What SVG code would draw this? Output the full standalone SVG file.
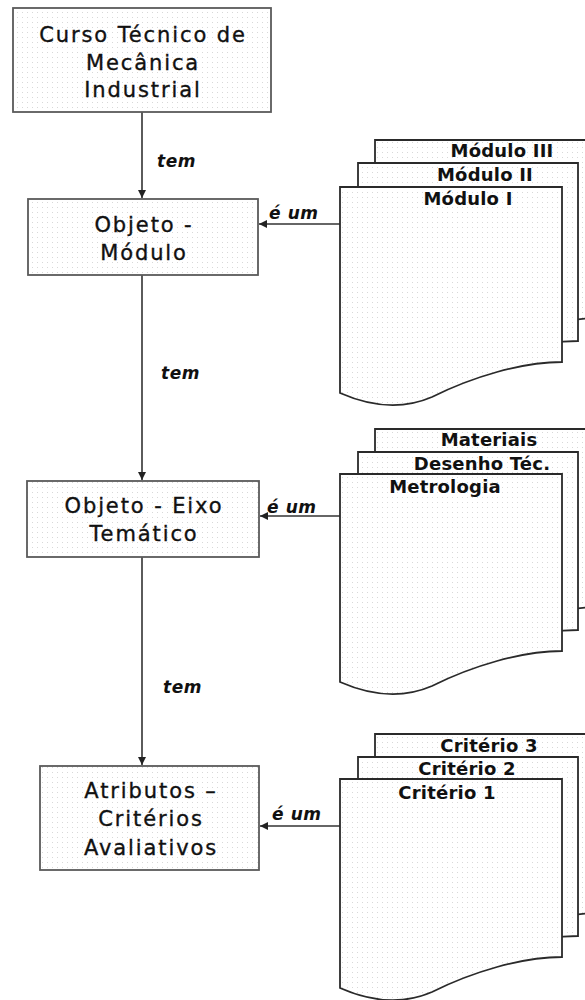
<svg xmlns="http://www.w3.org/2000/svg" width="585" height="1000" viewBox="0 0 585 1000">
  <style>
    .box { fill: url(#dots); stroke: #5a5a5a; stroke-width: 1.8; }
    .page { fill: url(#dots); stroke: #2a2a2a; stroke-width: 1.8; stroke-linejoin: miter; }
    .lbl { font-family: "DejaVu Sans", Verdana, sans-serif; font-size: 21px; letter-spacing: 1.9px; fill: #111; stroke: #111; stroke-width: 0.35; text-anchor: middle; }
    .ptxt { font-family: "DejaVu Sans", Verdana, sans-serif; font-size: 18px; font-weight: bold; letter-spacing: 0.2px; fill: #111; text-anchor: middle; }
    .rel { font-family: "DejaVu Sans", Verdana, sans-serif; font-size: 17px; font-weight: bold; font-style: italic; letter-spacing: 0.6px; fill: #111; }
    .wire { stroke: #333; stroke-width: 1.6; fill: none; marker-end: url(#head); }
  </style>
  <defs>
    <pattern id="dots" width="5" height="5" patternUnits="userSpaceOnUse">
      <rect width="5" height="5" fill="#ffffff"/>
      <rect x="2" y="2" width="1" height="1" fill="#d8d8d8"/>
    </pattern>
    <marker id="head" viewBox="0 0 10 10" refX="10" refY="5" markerWidth="8" markerHeight="8" markerUnits="userSpaceOnUse" orient="auto">
      <path d="M0,0 L10,5 L0,10 Z" fill="#222"/>
    </marker>
  </defs>

  <!-- connectors -->
  <g id="connectors">
    <line class="wire" x1="142" y1="112" x2="142" y2="198"/>
    <text class="rel" x="157" y="167">tem</text>
    <line class="wire" x1="142" y1="275" x2="142" y2="480"/>
    <text class="rel" x="161" y="379">tem</text>
    <line class="wire" x1="142" y1="557" x2="142" y2="765"/>
    <text class="rel" x="163" y="693">tem</text>

    <line class="wire" x1="340" y1="224" x2="259" y2="224"/>
    <text class="rel" x="269" y="219">é um</text>
    <line class="wire" x1="340" y1="516" x2="260" y2="516"/>
    <text class="rel" x="267" y="513">é um</text>
    <line class="wire" x1="340" y1="826" x2="260" y2="826"/>
    <text class="rel" x="272" y="820">é um</text>
  </g>

  <!-- main chain -->
  <g id="curso">
    <rect class="box" x="13" y="8" width="258" height="104"/>
    <text class="lbl" x="143" y="42">Curso Técnico de</text>
    <text class="lbl" x="143" y="70">Mecânica</text>
    <text class="lbl" x="143" y="97">Industrial</text>
  </g>
  <g id="objeto-modulo">
    <rect class="box" x="28" y="199" width="230" height="76"/>
    <text class="lbl" x="144" y="232">Objeto -</text>
    <text class="lbl" x="144" y="260">Módulo</text>
  </g>
  <g id="objeto-eixo">
    <rect class="box" x="27" y="481" width="232" height="76"/>
    <text class="lbl" x="144" y="513">Objeto - Eixo</text>
    <text class="lbl" x="144" y="541">Temático</text>
  </g>
  <g id="atributos">
    <rect class="box" x="40" y="766" width="219" height="104"/>
    <text class="lbl" x="151" y="798">Atributos –</text>
    <text class="lbl" x="151" y="826">Critérios</text>
    <text class="lbl" x="151" y="855">Avaliativos</text>
  </g>

  <!-- document stacks -->
  <g id="modulos">
    <path class="page" d="M375,140 H600 V318 C560,318 510,333 470,353 C440,366 410,363 375,349 Z"/>
    <path class="page" d="M358,163 H578 V341 C538,341 488,356 448,376 C418,389 388,386 358,372 Z"/>
    <path class="page" d="M340,187 H562 V362 C522,362 472,377 432,397 C402,410 372,407 340,393 Z"/>
    <text class="ptxt" x="502" y="157">Módulo III</text>
    <text class="ptxt" x="485" y="181">Módulo II</text>
    <text class="ptxt" x="468" y="205">Módulo I</text>
  </g>
  <g id="eixos">
    <path class="page" d="M375,429 H600 V607 C560,607 510,622 470,642 C440,655 410,652 375,638 Z"/>
    <path class="page" d="M358,452 H578 V630 C538,630 488,645 448,665 C418,678 388,675 358,661 Z"/>
    <path class="page" d="M340,474 H562 V651 C522,651 472,666 432,686 C402,699 372,696 340,682 Z"/>
    <text class="ptxt" x="489" y="446">Materiais</text>
    <text class="ptxt" x="482" y="470">Desenho Téc.</text>
    <text class="ptxt" x="445" y="493">Metrologia</text>
  </g>
  <g id="criterios">
    <path class="page" d="M375,734 H600 V913 C560,913 510,928 470,948 C440,961 410,958 375,944 Z"/>
    <path class="page" d="M358,757 H578 V936 C538,936 488,951 448,971 C418,984 388,981 358,967 Z"/>
    <path class="page" d="M340,779 H562 V957 C522,957 472,972 432,992 C402,1005 372,1002 340,988 Z"/>
    <text class="ptxt" x="489" y="752">Critério 3</text>
    <text class="ptxt" x="467" y="775">Critério 2</text>
    <text class="ptxt" x="447" y="799">Critério 1</text>
  </g>
</svg>
